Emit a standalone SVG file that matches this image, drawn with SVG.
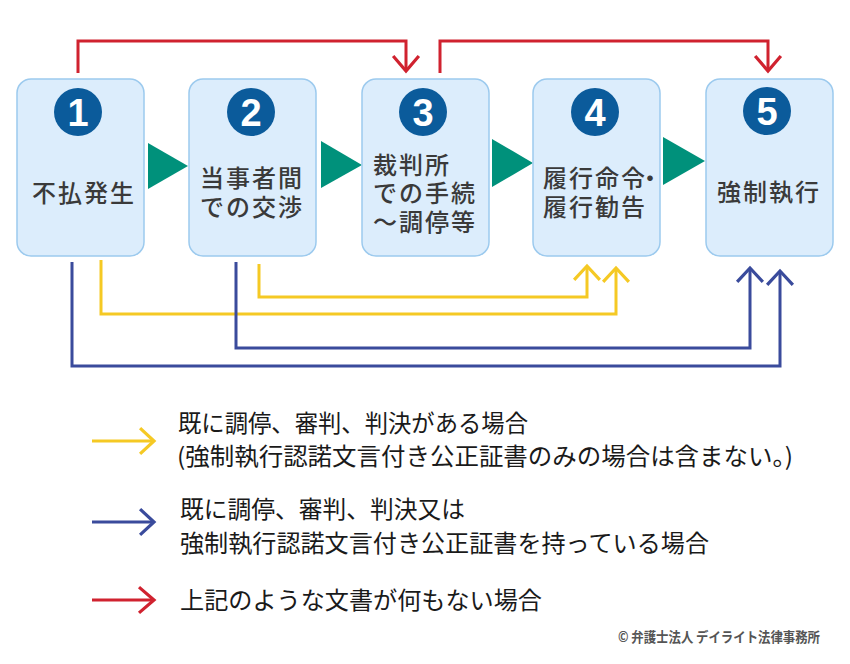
<svg xmlns="http://www.w3.org/2000/svg" width="850" height="664" viewBox="0 0 850 664">
<defs>
<style>
.box{fill:#dcedfc;stroke:#9ccaee;stroke-width:1.5}
.num{fill:#0b5b9b}
.numt{font-family:"Liberation Sans",Arial,sans-serif;font-weight:bold;font-size:38px;fill:#fff;text-anchor:middle}
.bt{font-family:"Noto Sans CJK JP","Noto Sans",sans-serif;font-weight:500;font-size:24px;fill:#3a3a3a;letter-spacing:2px}
.tri{fill:#00917b}
.lt{font-family:"Noto Sans CJK JP","Noto Sans",sans-serif;font-size:24px;fill:#1a1a1a}
.red{fill:none;stroke:#d0222f;stroke-width:3}
.yel{fill:none;stroke:#f5c924;stroke-width:3}
.blu{fill:none;stroke:#3a4b9c;stroke-width:3}
.cp{font-family:"Noto Sans CJK JP","Noto Sans",sans-serif;font-weight:bold;font-size:14px;fill:#555}
</style>
<marker id="mr" markerUnits="userSpaceOnUse" markerWidth="30" markerHeight="30" viewBox="-16 -14 18 28" refX="0" refY="0" orient="auto"><path d="M-14,-12 L0,0 L-14,12" fill="none" stroke="#d0222f" stroke-width="3"/></marker>
<marker id="my" markerUnits="userSpaceOnUse" markerWidth="30" markerHeight="30" viewBox="-16 -14 18 28" refX="0" refY="0" orient="auto"><path d="M-13,-12 L0,0 L-13,12" fill="none" stroke="#f5c924" stroke-width="3"/></marker>
<marker id="mb" markerUnits="userSpaceOnUse" markerWidth="30" markerHeight="30" viewBox="-16 -14 18 28" refX="0" refY="0" orient="auto"><path d="M-13,-12 L0,0 L-13,12" fill="none" stroke="#3a4b9c" stroke-width="3"/></marker>
</defs>
<rect width="850" height="664" fill="#fff"/>

<g id="connectors">
<path class="red" d="M78,73 V41 H406 V71" marker-end="url(#mr)"/>
<path class="red" d="M440,73 V41 H768 V71" marker-end="url(#mr)"/>
<path class="yel" d="M259,264 V297 H587 V266" marker-end="url(#my)"/>
<path class="yel" d="M101,260 V314 H616 V268" marker-end="url(#my)"/>
<path class="blu" d="M236,262 V348 H750 V268" marker-end="url(#mb)"/>
<path class="blu" d="M72,262 V366 H780 V271" marker-end="url(#mb)"/>
<polygon class="tri" points="148,143 188,166 148,189"/>
<polygon class="tri" points="321,141 362,165 321,188"/>
<polygon class="tri" points="492,139 533,163 492,187"/>
<polygon class="tri" points="663,137 705,161 663,185"/>
</g>

<g id="node1">
<rect class="box" x="17" y="79" width="127" height="177" rx="14"/>
<circle class="num" cx="78" cy="112" r="24"/>
<text class="numt" x="78" y="126">1</text>
<text class="bt" x="32" y="202">不払発生</text>
</g>
<g id="node2">
<rect class="box" x="189" y="79" width="127" height="177" rx="14"/>
<circle class="num" cx="251" cy="112" r="24"/>
<text class="numt" x="251" y="126">2</text>
<text class="bt" x="200" y="187">当事者間<tspan x="200" y="216">での交渉</tspan></text>
</g>
<g id="node3">
<rect class="box" x="362" y="79" width="127" height="177" rx="14"/>
<circle class="num" cx="423" cy="112" r="24"/>
<text class="numt" x="423" y="126">3</text>
<text class="bt" x="373" y="174">裁判所<tspan x="373" y="202">での手続</tspan><tspan x="373" y="231">～調停等</tspan></text>
</g>
<g id="node4">
<rect class="box" x="533" y="79" width="127" height="177" rx="14"/>
<circle class="num" cx="595" cy="112" r="24"/>
<text class="numt" x="595" y="126">4</text>
<text class="bt" x="543" y="187">履行命令<tspan dx="-9">・</tspan><tspan x="543" y="216">履行勧告</tspan></text>
</g>
<g id="node5">
<rect class="box" x="706" y="79" width="127" height="177" rx="14"/>
<circle class="num" cx="767" cy="111" r="24"/>
<text class="numt" x="767" y="125">5</text>
<text class="bt" x="717" y="201">強制執行</text>
</g>

<g id="legend">
<path class="yel" d="M92,441 H154" marker-end="url(#my)"/>
<text class="lt" x="178" y="432" textLength="350" lengthAdjust="spacingAndGlyphs">既に調停、審判、判決がある場合</text>
<text class="lt" x="177" y="465" textLength="616" lengthAdjust="spacingAndGlyphs">(強制執行認諾文言付き公正証書のみの場合は含まない。)</text>
<path class="blu" d="M92,522 H154" marker-end="url(#mb)"/>
<text class="lt" x="180" y="518" textLength="285" lengthAdjust="spacingAndGlyphs">既に調停、審判、判決又は</text>
<text class="lt" x="180" y="552" textLength="529" lengthAdjust="spacingAndGlyphs">強制執行認諾文言付き公正証書を持っている場合</text>
<path class="red" d="M92,600 H154" marker-end="url(#mr)"/>
<text class="lt" x="180" y="609" textLength="362" lengthAdjust="spacingAndGlyphs">上記のような文書が何もない場合</text>
<text class="cp" x="618" y="642" textLength="202" lengthAdjust="spacingAndGlyphs">© 弁護士法人 デイライト法律事務所</text>
</g>
</svg>
